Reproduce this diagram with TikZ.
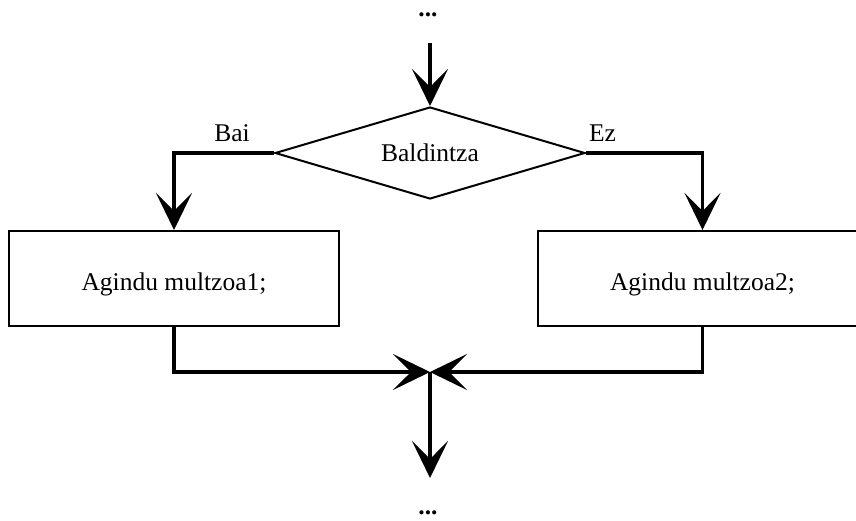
\documentclass[tikz,border=0pt]{standalone}
\usepackage{fontspec}
\setmainfont{Liberation Serif}
\usetikzlibrary{shapes.geometric,arrows.meta}
\begin{document}
\begin{tikzpicture}[x=1pt,y=-1pt,
  every node/.style={font=\fontsize{25.5}{30}\selectfont},
  shapeline/.style={draw, line width=2pt},
  conn/.style={line width=3.3pt, -{Stealth[length=37pt,width=36pt,inset=18pt]}},
  dots/.style={inner sep=0pt},
  box/.style={shapeline, rectangle, minimum height=95pt, inner sep=0pt, text height=23pt, text depth=0pt}
]
\useasboundingbox (0,0) rectangle (856,520);
\node[dots] (dt) at (428,15) {\textbf{...}};
\node[dots] (db) at (428,513) {\textbf{...}};
\node[shapeline, diamond, aspect=3.37, minimum width=310pt, minimum height=92pt, inner sep=0pt] (d) at (430,153) {Baldintza};
\node[box, minimum width=330pt] (b1) at (174,278.5) {Agindu multzoa1;};
\node[box, minimum width=329pt] (b2) at (702.5,278.5) {Agindu multzoa2;};
\node (bai) at (232,133) {Bai};
\node (ez) at (602.5,133) {Ez};
\coordinate (top) at (430,43);
\coordinate (m) at (430,372);
\coordinate (bot) at (430,478);
\draw[conn] (top) -- (d.north);
\draw[conn] (d.west) -| (b1.north);
\draw[conn] (d.east) -| (b2.north);
\draw[conn] (b1.south) |- (m);
\draw[conn] (b2.south) |- (m);
\draw[conn] (m) -- (bot);
\end{tikzpicture}
\end{document}
